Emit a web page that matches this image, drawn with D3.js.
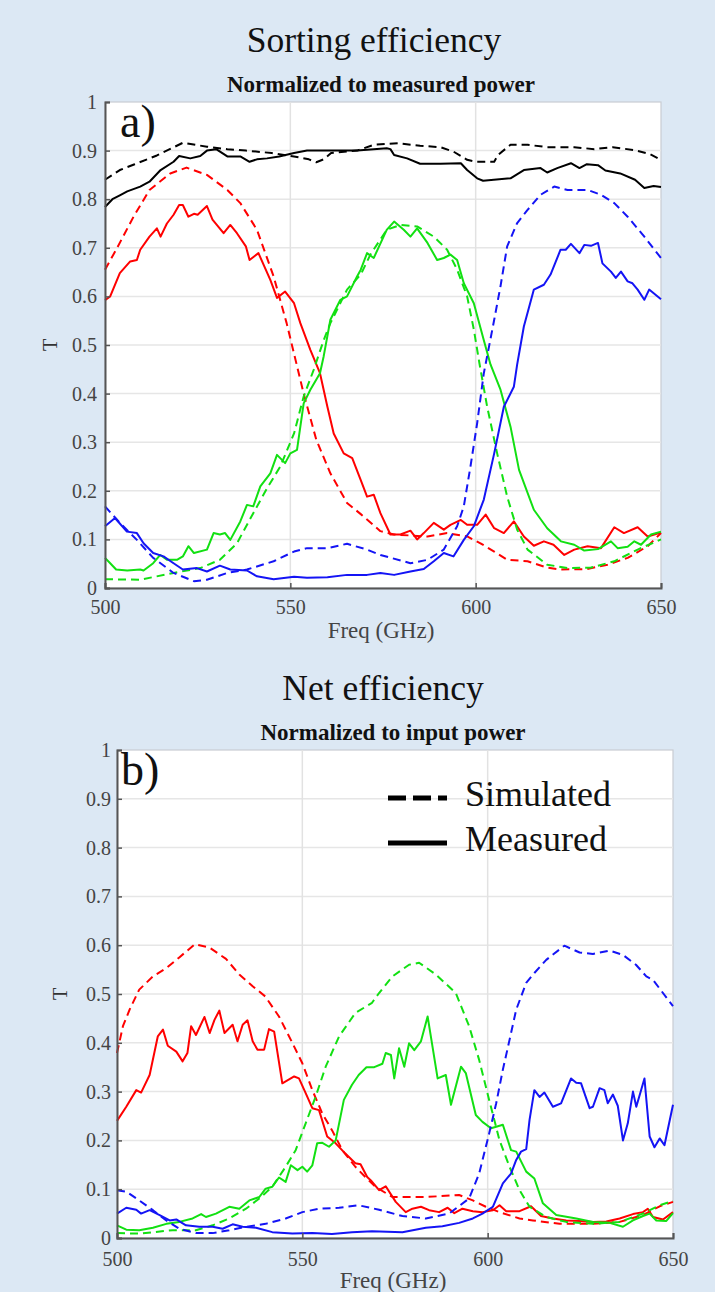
<!DOCTYPE html>
<html>
<head>
<meta charset="utf-8">
<script src="https://cdn.jsdelivr.net/npm/d3@7"></script>
<style>
  body { margin: 0; background: #dce8f4; }
  svg { display: block; }
  text { font-family: "Liberation Serif", "Times New Roman", serif; }
</style>
</head>
<body>
<svg id="chart" width="715" height="1292"></svg>
<script>
// ---- data: [freq (GHz), T] ----
var freqTicks = [500, 550, 600, 650];
var tTicks = [0, 0.1, 0.2, 0.3, 0.4, 0.5, 0.6, 0.7, 0.8, 0.9, 1];

// panel a) sorting efficiency
var aBlackSim = [[500,0.84],[504,0.86],[508,0.872],[514,0.89],[521,0.916],[527.5,0.908],[533,0.903],[538,0.9],[545,0.895],[551,0.888],[555,0.882],[557,0.876],[559,0.882],[561,0.895],[568,0.9],[572.5,0.912],[579,0.915],[585,0.91],[590.5,0.907],[594,0.898],[597.7,0.881],[600,0.877],[605,0.877],[606,0.891],[609.4,0.912],[614,0.912],[619.3,0.907],[626.6,0.907],[632,0.903],[637,0.907],[642.8,0.901],[647,0.893],[650,0.881]];
var aBlackMeas = [[500,0.784],[502,0.8],[504,0.808],[506,0.816],[509.5,0.826],[512,0.836],[515,0.86],[518.5,0.877],[520,0.889],[523,0.884],[525.7,0.889],[527.5,0.9],[530,0.903],[533,0.888],[536.5,0.888],[539,0.877],[541,0.882],[543.7,0.884],[547,0.888],[551,0.895],[554.5,0.9],[561.7,0.9],[568,0.9],[572.5,0.903],[576,0.905],[577,0.903],[578,0.891],[581.5,0.884],[585,0.873],[590.5,0.873],[596,0.874],[597.7,0.86],[600.4,0.843],[602,0.838],[609.4,0.843],[613,0.86],[617.5,0.864],[619.3,0.855],[622,0.864],[625.7,0.874],[628,0.864],[630,0.872],[633,0.87],[635,0.859],[639,0.853],[643,0.84],[645.5,0.823],[648,0.827],[650,0.825]];
var aRedSim = [[500,0.655],[503,0.696],[507.7,0.764],[512,0.819],[517.6,0.853],[522,0.865],[527.5,0.85],[533,0.819],[536.5,0.792],[541,0.737],[545.5,0.641],[549,0.545],[553.6,0.4],[557,0.305],[560.8,0.236],[565.3,0.175],[569,0.152],[574.3,0.117],[578,0.11],[587,0.106],[592.3,0.113],[597.7,0.106],[601.3,0.092],[605,0.075],[608.5,0.058],[614,0.055],[619.3,0.042],[623,0.038],[630,0.039],[635.6,0.048],[641,0.062],[646.4,0.086],[650,0.113]];
var aRedMeas = [[500,0.592],[501.4,0.6],[504,0.648],[506.8,0.672],[508.6,0.675],[509.5,0.696],[512,0.723],[514,0.74],[515,0.723],[516.7,0.75],[518.5,0.768],[520,0.788],[521,0.788],[522.5,0.764],[524,0.77],[525,0.768],[527.5,0.786],[529,0.758],[532,0.73],[533.8,0.747],[535.6,0.73],[538,0.703],[539,0.675],[541.4,0.689],[544.6,0.634],[546.4,0.597],[548.6,0.61],[551,0.586],[552.7,0.545],[555.4,0.49],[558,0.442],[560,0.373],[561.7,0.318],[564.4,0.277],[566.7,0.267],[569,0.222],[570.7,0.188],[572.5,0.192],[574.3,0.154],[577,0.11],[579.7,0.11],[582.4,0.118],[584.2,0.1],[586,0.113],[588.7,0.134],[591.4,0.12],[593.2,0.13],[596,0.14],[597.7,0.13],[600.4,0.13],[602.7,0.151],[605,0.123],[607.6,0.113],[610.3,0.137],[613,0.106],[615.7,0.087],[618.4,0.096],[621,0.089],[623.9,0.068],[626.6,0.079],[630.2,0.086],[633.8,0.082],[637.4,0.125],[640,0.113],[643.7,0.125],[646.4,0.106],[650,0.114]];
var aGreenSim = [[500,0.018],[509.5,0.017],[518.5,0.031],[525.7,0.041],[531,0.058],[535.6,0.092],[540,0.154],[543.7,0.205],[547.3,0.25],[551,0.318],[553.6,0.394],[556.3,0.449],[559,0.51],[560.8,0.545],[565.3,0.614],[569,0.645],[571.6,0.686],[576,0.737],[579.7,0.747],[584.2,0.744],[588.7,0.723],[592.3,0.696],[595,0.655],[597.7,0.6],[599.5,0.532],[601,0.463],[603.1,0.373],[605.8,0.277],[608.5,0.188],[611.2,0.12],[614,0.079],[619.3,0.048],[624.8,0.041],[631.1,0.042],[637.4,0.055],[643.7,0.079],[650,0.1]];
var aGreenMeas = [[500,0.062],[501.4,0.051],[503,0.038],[506,0.036],[509.5,0.038],[510.4,0.036],[513,0.051],[514.9,0.068],[516.7,0.058],[519.4,0.058],[521,0.065],[522.5,0.086],[524,0.072],[527.5,0.079],[529.3,0.113],[531,0.11],[532.4,0.113],[533.8,0.099],[536.5,0.137],[538.3,0.171],[540,0.168],[541.9,0.209],[544.6,0.236],[546.4,0.274],[548.6,0.257],[550,0.277],[551.8,0.284],[553.6,0.38],[555.4,0.408],[558,0.442],[559,0.477],[560.8,0.552],[563.5,0.593],[565.3,0.6],[568,0.641],[569,0.655],[570.7,0.689],[572.5,0.679],[576,0.737],[578,0.754],[580.6,0.737],[582.4,0.723],[584.2,0.74],[587,0.71],[589.6,0.675],[591.4,0.679],[593.2,0.686],[595,0.675],[596.8,0.627],[599.5,0.586],[602.2,0.51],[604,0.46],[606.7,0.408],[609.4,0.332],[611.7,0.243],[615.7,0.161],[619.3,0.123],[623,0.096],[626.6,0.089],[629.3,0.077],[633,0.08],[636.5,0.096],[638.3,0.082],[641,0.085],[642.8,0.096],[644.6,0.089],[647.3,0.11],[650,0.116]];
var aBlueSim = [[500,0.168],[504,0.134],[508.6,0.099],[513,0.062],[518.5,0.031],[524,0.014],[527.5,0.017],[533,0.031],[538.3,0.038],[545.5,0.055],[551,0.075],[554.5,0.082],[560,0.082],[565.3,0.091],[570.7,0.079],[574.3,0.068],[582.4,0.051],[587,0.058],[591.4,0.079],[595,0.127],[596.8,0.168],[598.6,0.25],[600.4,0.339],[602.2,0.442],[603.1,0.477],[605,0.552],[606.7,0.621],[608.5,0.703],[611.2,0.751],[614,0.778],[617.5,0.809],[621.2,0.826],[624.8,0.819],[630.2,0.819],[633.8,0.809],[637.4,0.792],[641,0.764],[645.5,0.723],[650,0.679]];
var aBlueMeas = [[500,0.127],[502.7,0.144],[505.9,0.116],[508.6,0.113],[510.4,0.092],[513,0.072],[515.8,0.065],[518.5,0.051],[521,0.038],[524.8,0.041],[527.5,0.034],[531,0.046],[533.8,0.038],[538.3,0.036],[541,0.024],[545.5,0.018],[551,0.023],[554.5,0.021],[560,0.022],[565.3,0.027],[570.7,0.027],[574.3,0.031],[578,0.027],[582.4,0.034],[586,0.039],[588.7,0.055],[591.4,0.072],[594,0.065],[596.8,0.099],[599.5,0.127],[602.2,0.182],[605,0.277],[607.6,0.373],[610.3,0.414],[611.2,0.46],[613,0.538],[615.7,0.614],[618.4,0.624],[620.2,0.645],[622.9,0.696],[624.3,0.696],[625.7,0.708],[628,0.689],[629.3,0.706],[631.1,0.704],[633,0.71],[634.2,0.668],[636.5,0.651],[637.8,0.638],[639.2,0.651],[641,0.631],[642.3,0.627],[643.7,0.614],[645.5,0.593],[646.8,0.614],[650,0.594]];

// panel b) net efficiency
var bRedSim = [[500,0.379],[501.6,0.434],[503.4,0.468],[506,0.509],[509.7,0.536],[513.3,0.553],[516.8,0.575],[521,0.602],[525,0.595],[529.4,0.572],[533,0.54],[536.6,0.516],[540,0.495],[543.7,0.454],[547.3,0.4],[550,0.358],[552.7,0.303],[555.4,0.255],[558,0.221],[560.8,0.18],[564.3,0.146],[567,0.125],[569.7,0.105],[574.3,0.084],[583.3,0.084],[592.3,0.088],[596,0.077],[599.5,0.064],[603.2,0.053],[608.6,0.04],[612.2,0.036],[619.4,0.029],[628.4,0.029],[635.6,0.033],[641.9,0.047],[646.4,0.065],[650,0.074]];
var bRedMeas = [[500,0.24],[502.5,0.269],[505.2,0.303],[506.5,0.298],[508.8,0.334],[511,0.413],[512.4,0.427],[513.7,0.394],[516,0.382],[517.7,0.362],[519,0.379],[520,0.434],[521.3,0.416],[523.6,0.453],[525,0.42],[526.3,0.447],[527.6,0.466],[529,0.42],[531.2,0.437],[532.5,0.403],[533.9,0.437],[535.2,0.446],[536.6,0.403],[537.9,0.386],[539.7,0.386],[541,0.428],[542.4,0.423],[544.6,0.317],[547.8,0.331],[549.1,0.327],[550.9,0.297],[552.7,0.266],[554.5,0.262],[556.7,0.208],[559,0.194],[561.6,0.173],[564.3,0.153],[565.7,0.151],[567.5,0.125],[568.5,0.118],[570.7,0.098],[572.5,0.106],[575.2,0.074],[577.9,0.053],[579.7,0.06],[582,0.064],[584.2,0.057],[586.9,0.053],[589.2,0.062],[591,0.051],[593.2,0.06],[596,0.055],[598.6,0.053],[601.4,0.057],[603.2,0.067],[605,0.055],[608.6,0.055],[611.7,0.065],[614.4,0.045],[617.6,0.04],[621.2,0.036],[624.8,0.035],[628.4,0.033],[632,0.034],[635.6,0.04],[639.2,0.049],[641.9,0.053],[643.2,0.06],[644.6,0.043],[647.3,0.038],[650,0.053]];
var bGreenSim = [[500,0.01],[506,0.009],[515,0.016],[521.3,0.016],[525.8,0.026],[530.3,0.04],[534.8,0.06],[538.4,0.081],[541.9,0.105],[545.5,0.146],[548.2,0.18],[550.9,0.235],[553.6,0.29],[556.3,0.351],[559.9,0.413],[564.3,0.461],[568.8,0.482],[570.7,0.502],[574.3,0.536],[578.8,0.56],[581.5,0.564],[586,0.54],[591.4,0.502],[595,0.434],[597.7,0.365],[600.4,0.283],[603.2,0.2],[605.9,0.146],[608.6,0.098],[611.3,0.064],[615.8,0.043],[621.2,0.033],[628.4,0.029],[635.6,0.033],[641.9,0.05],[646.4,0.067],[650,0.076]];
var bGreenMeas = [[500,0.026],[502.5,0.017],[506,0.016],[509.7,0.021],[513.3,0.029],[516.8,0.033],[520.4,0.04],[522.7,0.049],[524,0.043],[526.7,0.05],[530.3,0.064],[533,0.06],[535.7,0.077],[538.4,0.084],[540.1,0.101],[541.9,0.105],[543.7,0.124],[545.5,0.115],[546.9,0.149],[548.7,0.139],[550,0.146],[551.3,0.136],[552.7,0.149],[554,0.194],[555.4,0.195],[557.2,0.187],[559,0.2],[561.2,0.283],[563.4,0.314],[565.2,0.334],[567.3,0.35],[569.4,0.35],[571.6,0.357],[572.5,0.379],[573.9,0.375],[574.8,0.327],[576.1,0.389],[577.5,0.351],[578.8,0.399],[580.2,0.385],[582,0.403],[583.8,0.454],[586.5,0.327],[588.7,0.334],[590.1,0.273],[592.8,0.351],[594.1,0.338],[596.8,0.252],[598.6,0.238],[600.9,0.225],[602.3,0.228],[604.1,0.232],[606.3,0.18],[607.7,0.177],[610.4,0.136],[612.6,0.122],[614.9,0.071],[618.5,0.047],[623.9,0.04],[628.4,0.033],[632.9,0.031],[636.5,0.023],[639.2,0.036],[641.9,0.045],[643.7,0.05],[645.5,0.036],[648.2,0.035],[650,0.051]];
var bBlueSim = [[500,0.098],[502.5,0.095],[506,0.077],[509.7,0.057],[513.3,0.036],[516.8,0.019],[521.3,0.01],[525.8,0.01],[530.3,0.016],[534.8,0.023],[540.1,0.029],[545.5,0.04],[550,0.053],[554.5,0.06],[559.9,0.062],[565.2,0.067],[570.7,0.058],[577,0.045],[583.3,0.04],[589.6,0.05],[595,0.081],[597.7,0.132],[600.4,0.214],[602.3,0.276],[604.1,0.345],[605.9,0.406],[607.7,0.468],[610.4,0.523],[612.6,0.543],[615.8,0.57],[620.7,0.599],[624.8,0.585],[628.4,0.582],[632.9,0.589],[636.5,0.58],[640,0.56],[642.8,0.536],[644.6,0.529],[650,0.475]];
var bBlueMeas = [[500,0.05],[502.5,0.062],[505.2,0.058],[506.5,0.05],[508.8,0.057],[511.5,0.047],[514.2,0.036],[516,0.038],[518.6,0.026],[522.2,0.023],[525.8,0.023],[528.5,0.019],[531.2,0.028],[533.9,0.023],[537.5,0.021],[541.9,0.012],[547.3,0.009],[552.7,0.01],[558,0.008],[563.4,0.012],[568.8,0.014],[577,0.012],[583.3,0.021],[587.8,0.024],[592.3,0.031],[596,0.04],[598.6,0.05],[601.4,0.064],[604.1,0.112],[606.3,0.132],[607.7,0.16],[609,0.177],[610.4,0.182],[611.3,0.242],[612.6,0.303],[614,0.289],[615.3,0.298],[617.6,0.269],[619.8,0.276],[622.5,0.327],[623.9,0.318],[625.2,0.317],[627.5,0.266],[628.4,0.269],[630.2,0.307],[631.5,0.303],[632.4,0.276],[633.8,0.294],[635.1,0.271],[636.5,0.2],[637.8,0.235],[639.2,0.3],[640.1,0.269],[642.3,0.327],[643.7,0.208],[645,0.186],[646.4,0.204],[647.7,0.19],[650,0.273]];

var colors = { red: '#ff0000', green: '#12e012', blue: '#1414f5', black: '#000000' };

var svg = d3.select('#chart');

function drawPanel(p) {
    var x = d3.scaleLinear().domain([500, 650]).range([p.left, p.right]),
        y = d3.scaleLinear().domain([0, 1]).range([p.bottom, p.top]);

    var g = svg.append('g');

    g.append('rect')
        .attr('x', p.left).attr('y', p.top)
        .attr('width', p.right - p.left).attr('height', p.bottom - p.top)
        .attr('fill', '#ffffff').attr('stroke', '#c9ccd2').attr('stroke-width', 1.2);

    // grid
    g.selectAll('.hgrid').data(tTicks.slice(1, -1)).enter().append('line')
        .attr('x1', p.left).attr('x2', p.right)
        .attr('y1', d => y(d)).attr('y2', d => y(d))
        .attr('stroke', '#e6e6e6').attr('stroke-width', 1.5);
    g.selectAll('.vgrid').data(freqTicks.slice(1, -1)).enter().append('line')
        .attr('y1', p.top).attr('y2', p.bottom)
        .attr('x1', d => x(d)).attr('x2', d => x(d))
        .attr('stroke', '#e2e2e2').attr('stroke-width', 1.5);

    var line = d3.line().x(d => x(d[0])).y(d => y(d[1]));

    p.series.forEach(function(s) {
        g.append('path')
            .datum(s.data)
            .attr('d', line)
            .attr('fill', 'none')
            .attr('stroke', colors[s.color])
            .attr('stroke-width', 2)
            .attr('stroke-linejoin', 'round')
            .attr('stroke-dasharray', s.dash ? '8,5' : null);
    });

    // axes
    var xAxis = g.append('g')
        .attr('transform', 'translate(0,' + p.bottom + ')')
        .call(d3.axisBottom(x).tickValues(freqTicks).tickSize(-5).tickPadding(p.xPad).tickFormat(d3.format('d')));
    var yAxis = g.append('g')
        .attr('transform', 'translate(' + p.left + ',0)')
        .call(d3.axisLeft(y).tickValues(tTicks).tickSize(-5).tickPadding(p.yPad).tickFormat(d => d === 0 ? '0' : d === 1 ? '1' : d3.format('.1f')(d)));
    [xAxis, yAxis].forEach(function(a) {
        a.select('.domain').attr('stroke', '#555').attr('stroke-width', 2);
        a.selectAll('.tick line').attr('stroke', '#555').attr('stroke-width', 1.5);
        a.selectAll('.tick text')
            .attr('fill', '#444')
            .style('font-family', '"Liberation Serif", serif')
            .style('font-size', '20px');
    });

    g.append('text')
        .attr('x', (p.left + p.right) / 2 - 2).attr('y', p.bottom + 50)
        .attr('text-anchor', 'middle').attr('fill', '#444')
        .style('font-size', '23px').text('Freq (GHz)');
    g.append('text')
        .attr('transform', 'translate(' + (p.left - p.tOff) + ',' + ((p.top + p.bottom) / 2) + ') rotate(-90)')
        .attr('text-anchor', 'middle').attr('fill', '#333')
        .style('font-size', '20px').text('T');

    g.append('text')
        .attr('x', (p.left + p.right) / 2 - p.titleShift).attr('y', p.top - 50)
        .attr('text-anchor', 'middle').attr('fill', '#111')
        .style('font-size', '35.5px').text(p.title);
    g.append('text')
        .attr('x', (p.left + p.right) / 2 - 2).attr('y', p.top - 10)
        .attr('text-anchor', 'middle').attr('fill', '#111')
        .style('font-size', '23px').style('font-weight', 'bold').text(p.subtitle);

    g.append('text')
        .attr('x', p.left + p.labelOff).attr('y', p.top + 35)
        .attr('fill', '#111').style('font-size', '46px').text(p.label);

    return { x: x, y: y, g: g };
}

drawPanel({
    left: 105, right: 661, top: 102, bottom: 588,
    xPad: 12, yPad: 8, tOff: 48, titleShift: 9, labelOff: 15,
    title: 'Sorting efficiency', subtitle: 'Normalized to measured power', label: 'a)',
    series: [
        { data: aBlackSim, color: 'black', dash: true },
        { data: aBlackMeas, color: 'black' },
        { data: aRedSim, color: 'red', dash: true },
        { data: aRedMeas, color: 'red' },
        { data: aGreenSim, color: 'green', dash: true },
        { data: aGreenMeas, color: 'green' },
        { data: aBlueSim, color: 'blue', dash: true },
        { data: aBlueMeas, color: 'blue' }
    ]
});

var pb = drawPanel({
    left: 117, right: 673, top: 750, bottom: 1238,
    xPad: 13.5, yPad: 6, tOff: 50, titleShift: 12, labelOff: 4,
    title: 'Net efficiency', subtitle: 'Normalized to input power', label: 'b)',
    series: [
        { data: bRedSim, color: 'red', dash: true },
        { data: bRedMeas, color: 'red' },
        { data: bGreenSim, color: 'green', dash: true },
        { data: bGreenMeas, color: 'green' },
        { data: bBlueSim, color: 'blue', dash: true },
        { data: bBlueMeas, color: 'blue' }
    ]
});

// legend (panel b)
var legend = pb.g.append('g').attr('transform', 'translate(388,798)');
[{ name: 'Simulated', dash: '18,7' }, { name: 'Measured', dash: null }].forEach(function(d, i) {
    legend.append('line')
        .attr('x1', 0).attr('x2', 59).attr('y1', i * 45).attr('y2', i * 45)
        .attr('stroke', '#000').attr('stroke-width', 5)
        .attr('stroke-dasharray', d.dash);
    legend.append('text')
        .attr('x', 77).attr('y', i * 45 + 8)
        .attr('fill', '#111').style('font-size', '36px').text(d.name);
});
</script>
</body>
</html>
